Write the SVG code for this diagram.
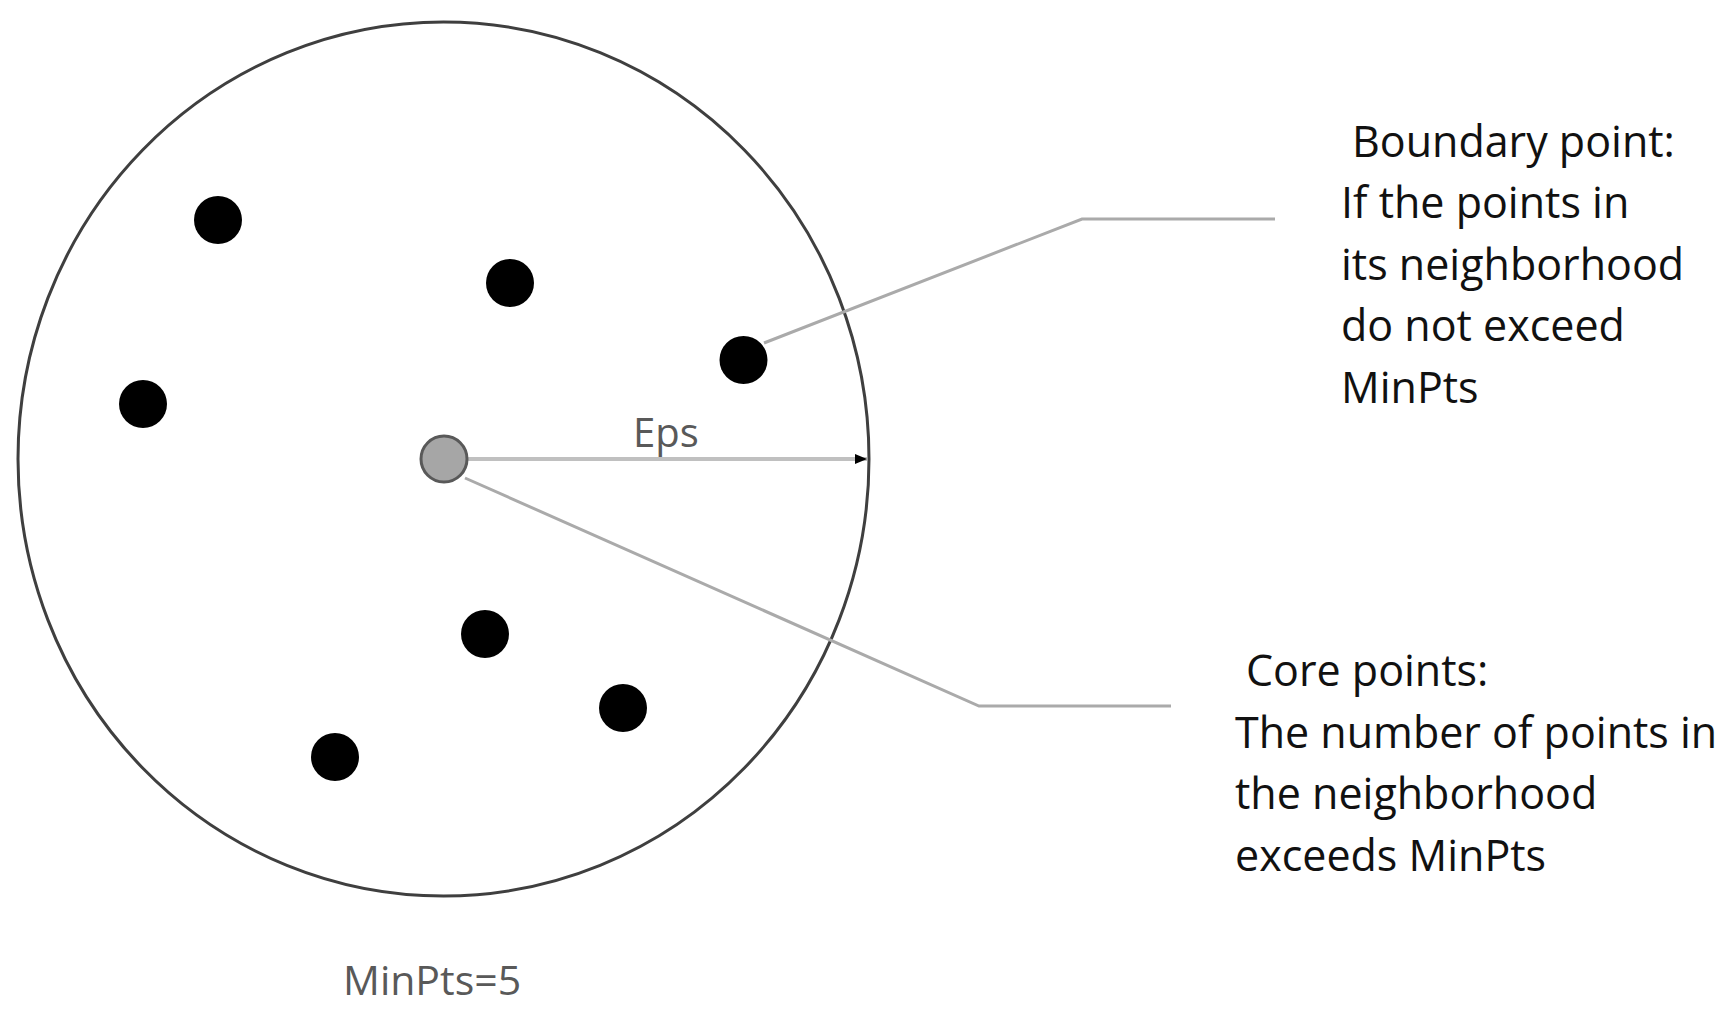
<svg xmlns="http://www.w3.org/2000/svg" width="1735" height="1010" viewBox="0 0 1735 1010">
  <defs>
    <marker id="arrow" markerWidth="12" markerHeight="10" refX="12" refY="5" orient="auto" markerUnits="userSpaceOnUse">
      <path d="M0,0 L12,5 L0,10 Z" fill="#000"/>
    </marker>
  </defs>
  <style>
    .dot { fill: #000; }
    .conn { fill: none; stroke: #aaaaaa; stroke-width: 3; }
    .lbl { font-family: "Open Sans", "Noto Sans", sans-serif; fill: #111; font-size: 43px; }
    .glbl { font-family: "Open Sans", "Noto Sans", sans-serif; fill: #595959; }
  </style>
  <rect width="1735" height="1010" fill="#fff"/>

  <g id="neighborhood">
    <ellipse cx="443.5" cy="459" rx="425.5" ry="437" fill="none" stroke="#3f3f3f" stroke-width="3"/>
  </g>

  <g id="connectors">
    <line x1="468" y1="459" x2="867" y2="459" stroke="#c0c0c0" stroke-width="4" marker-end="url(#arrow)"/>
    <polyline class="conn" points="764,343 1082,219 1275,219"/>
    <polyline class="conn" points="465,478 979,706 1171,706"/>
  </g>

  <g id="points">
    <circle class="dot" cx="218" cy="220" r="24"/>
    <circle class="dot" cx="143" cy="404" r="24"/>
    <circle class="dot" cx="510" cy="283" r="24"/>
    <circle class="dot" cx="743.5" cy="360" r="24"/>
    <circle class="dot" cx="485" cy="634" r="24"/>
    <circle class="dot" cx="623" cy="708" r="24"/>
    <circle class="dot" cx="335" cy="757" r="24"/>
  </g>

  <g id="core-point">
    <circle cx="444" cy="459" r="23" fill="#a6a6a6" stroke="#595959" stroke-width="3"/>
  </g>

  <g id="eps-label">
    <text class="glbl" x="633" y="447" font-size="40">Eps</text>
  </g>

  <g id="minpts-label">
    <text class="glbl" x="343" y="995" font-size="41">MinPts=5</text>
  </g>

  <g id="boundary-text">
    <text class="lbl" x="1352" y="157">Boundary point:</text>
    <text class="lbl" x="1341" y="218">If the points in</text>
    <text class="lbl" x="1341" y="280">its neighborhood</text>
    <text class="lbl" x="1341" y="341">do not exceed</text>
    <text class="lbl" x="1341" y="403">MinPts</text>
  </g>

  <g id="core-text">
    <text class="lbl" x="1246" y="686">Core points:</text>
    <text class="lbl" x="1235" y="748">The number of points in</text>
    <text class="lbl" x="1235" y="809">the neighborhood</text>
    <text class="lbl" x="1235" y="871">exceeds MinPts</text>
  </g>
</svg>
